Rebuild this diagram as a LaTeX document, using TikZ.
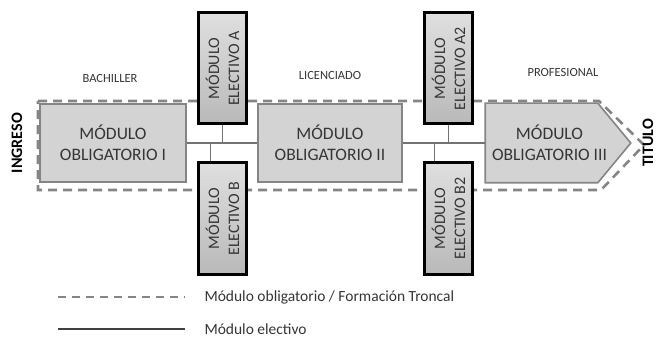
\documentclass[tikz,border=0pt]{standalone}
\usepackage{fontspec}
\setmainfont{Carlito}
\usetikzlibrary{positioning}

\definecolor{boxfill}{HTML}{D3D3D3}
\definecolor{boxline}{HTML}{858585}
\definecolor{txtgray}{HTML}{353535}
\definecolor{dashgray}{HTML}{858585}

\tikzset{
  obligbox/.style={draw=boxline, line width=1.6pt, fill=boxfill, inner sep=0pt,
    minimum height=78, text=txtgray, align=center,
    font=\fontsize{17.5}{21}\selectfont},
  electbox/.style={draw=black, line width=3pt, top color=gray!25, bottom color=gray!55,
    inner sep=0pt, minimum width=48, minimum height=111, text=txtgray},
  electtext/.style={rotate=90, align=center, text=txtgray,
    font=\fontsize{16}{20}\selectfont},
  troncal/.style={draw=dashgray, line width=2.6pt, dash pattern=on 9pt off 6pt},
  link/.style={draw=gray!90!black, line width=1.6pt},
  stage/.style={text=txtgray, font=\fontsize{12.5}{14}\selectfont},
  endlabel/.style={rotate=90, inner sep=0pt, font=\bfseries\fontsize{16}{18}\selectfont},
  legtext/.style={anchor=west, text=txtgray, font=\fontsize{15.5}{18}\selectfont}
}

\begin{document}
\begin{tikzpicture}[x=1pt,y=-1pt]
        \useasboundingbox (0,0) rectangle (656,339);
        % troncal (dashed outline)
        \coordinate (o1) at (38,101);
        \coordinate (o2) at (599,101);
        \coordinate (o3) at (644,145);
        \coordinate (o4) at (601,190);
        \coordinate (o5) at (38,190);
        \draw[troncal] (o1) -- (o2) -- (o3) -- (o4) -- (o5) -- cycle;
        %% obligatory modules
        \node[obligbox, minimum width=146] (m1) at (113,143) {MÓDULO\\OBLIGATORIO I};
        \node[obligbox, minimum width=144] (m2) at (330,143) {MÓDULO\\OBLIGATORIO II};
        \node[obligbox, minimum width=111, draw=none, fill=none] (m3) at (541.5,143) {};
        \draw[obligbox] (m3.north west) -- (m3.north east) -- ([xshift=33pt]m3.east)
              -- (m3.south east) -- (m3.south west) -- cycle;
        \node[text=txtgray, align=center, font=\fontsize{17.5}{21}\selectfont] (t3) at ([xshift=8pt]m3.center) {MÓDULO\\OBLIGATORIO III};
        %% links
        \draw[link] (m1.east) -- (m2.west);
        \draw[link] (m2.east) -- (m3.west);
        %% elective modules
        \node[electbox] (ea) at (222.5,68.5) {};
        \node[electbox] (eb) at (222.5,218.5) {};
        \node[electbox] (ea2) at (448.5,68.5) {};
        \node[electbox] (eb2) at (448.5,218.5) {};
        \node[electtext] (tea) at (ea) {MÓDULO\\ELECTIVO A};
        \node[electtext] (teb) at (eb) {MÓDULO\\ELECTIVO B};
        \node[electtext] (tea2) at (ea2) {MÓDULO\\ELECTIVO A2};
        \node[electtext] (teb2) at (eb2) {MÓDULO\\ELECTIVO B2};
        \draw[link] (ea.south) -- (ea.south |- m1.east);
        \draw[link] ([xshift=-12pt]eb.north) -- ([xshift=-12pt]eb.north |- m1.east);
        \draw[link] (ea2.south) -- (ea2.south |- m2.east);
        \draw[link] ([xshift=-14pt]eb2.north) -- ([xshift=-14pt]eb2.north |- m2.east);
        %% stages
        \node[stage] (bach) at (110,78) {BACHILLER};
        \node[stage] (lic) at (330,75) {LICENCIADO};
        \node[stage] (prof) at (563,72) {PROFESIONAL};
        \node[endlabel] (ingreso) at (17,143) {INGRESO};
        \node[endlabel] (titulo) at (648,143) {TITULO};
        %% legend
        \coordinate (d1) at (58,297);
        \coordinate (d2) at (185,297);
        \coordinate (s1) at (58,329);
        \coordinate (s2) at (185,329);
        \draw[troncal, line width=2.2pt, dash pattern=on 8pt off 6pt] (d1) -- (d2);
        \draw[link, line width=2.2pt, draw=black!75] (s1) -- (s2);
        \node[legtext] (leg1) at (201,297) {Módulo obligatorio / Formación Troncal};
        \node[legtext] (leg2) at (201,329) {Módulo electivo};
\end{tikzpicture}
\end{document}
